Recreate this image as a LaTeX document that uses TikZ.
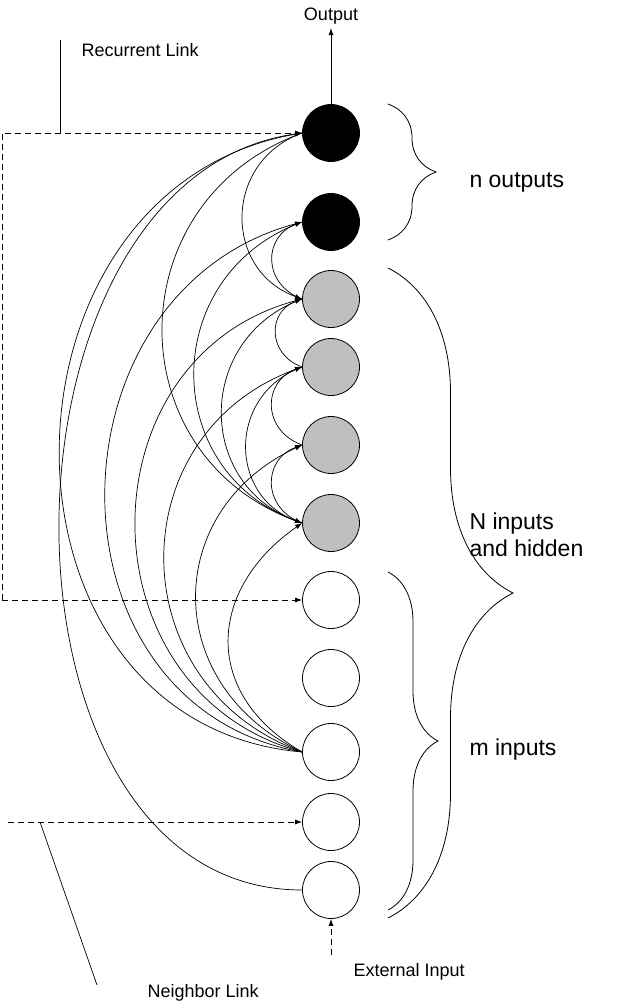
\documentclass[tikz,border=0pt]{standalone}
\usepackage{tikz}
\usepackage{fontspec}
\setmainfont{Liberation Sans}
\usetikzlibrary{decorations.pathreplacing,arrows.meta}

\begin{document}
\begin{tikzpicture}[x=1pt,y=-1pt]
      \useasboundingbox(0,0) rectangle (640,1008);
      \tikzset{U/.style = {shape=circle, draw, line width=0.8pt, minimum size=57pt, inner sep=0pt}}
      \tikzset{E/.style = {draw, line width=0.7pt, -{Latex[length=7pt,width=5pt]}}}
      \tikzset{D/.style = {E, dashed, dash pattern=on 6pt off 4pt}}
      \tikzset{B/.style = {draw, line width=0.8pt, decorate, decoration={brace, amplitude=#1}}}
      \tikzset{T/.style = {font=\fontsize{23}{27}\selectfont, align=left, anchor=west}}
      \tikzset{S/.style = {font=\fontsize{18}{21}\selectfont}}
      \node[U,fill=black](o1) at (331,133) {};
      \node[U,fill=black](o2) at (331,222) {};
      \node[U,fill=black!25](h1) at (331,299) {};
      \node[U,fill=black!25](h2) at (331,367) {};
      \node[U,fill=black!25](h3) at (331,445) {};
      \node[U,fill=black!25](h4) at (331,523) {};
      \node[U](i1) at (331,600) {};
      \node[U](i2) at (331,678) {};
      \node[U](i3) at (331,752) {};
      \node[U](i4) at (331,822) {};
      \node[U](i5) at (331,890) {};
      % short recurrent arcs
      \draw[E] (o1.west) to[out=200,in=160,looseness=1.3] (h1.west);
      \draw[E] (h1.west) to[out=160,in=200,looseness=1.4] (o2.west);
      \draw[E] (h2.west) to[out=160,in=200,looseness=1.4] (h1.west);
      \draw[E] (h3.west) to[out=160,in=200,looseness=1.4] (h2.west);
      \draw[E] (h4.west) to[out=160,in=200,looseness=1.4] (h3.west);
      % into the last hidden unit
      \draw[E] (o1.west) to[out=200,in=160,looseness=1.3] (h4.west);
      \draw[E] (o2.west) to[out=200,in=160,looseness=1.3] (h4.west);
      \draw[E] (h1.west) to[out=200,in=160,looseness=1.3] (h4.west);
      \draw[E] (h2.west) to[out=200,in=160,looseness=1.3] (h4.west);
      % from the third input
      \draw[E] (i3.west) to[out=175,in=190,looseness=1.35] (o1.west);
      \draw[E] (i3.west) to[out=170,in=195,looseness=1.3] (o2.west);
      \draw[E] (i3.west) to[out=165,in=195,looseness=1.3] (h1.west);
      \draw[E] (i3.west) to[out=160,in=200,looseness=1.3] (h2.west);
      \draw[E] (i3.west) to[out=155,in=205,looseness=1.3] (h3.west);
      \draw[E] (i3.west) to[out=150,in=215,looseness=1.3] (h4.west);
      \draw[E] (i5.west) to[out=180,in=188,looseness=1.1] (o1.west);
      % links from outside
      \coordinate (rl) at (2,133);
      \coordinate (rb) at (2,600);
      \coordinate (nl) at (8,822);
      \coordinate (ex) at (331,955);
      \draw[D] (rb) -- (rl) -- (o1.west);
      \draw[D] (rb) -- (i1.west);
      \draw[D] (nl) -- (i4.west);
      \draw[D] (ex) -- (i5.south);
      \draw[E] (o1.north) -- ++(0,-76) coordinate (out);
      \node[S,anchor=south](outl) at (out) {Output};
      \node[S,anchor=west](rll) at (78,50) {Recurrent Link};
      \node[S,anchor=west](nll) at (144,993) {Neighbor Link};
      \node[S,anchor=west](exl) at (350,972) {External Input};
      \draw[line width=0.7pt] (60,133) -- (60,40);
      \draw[line width=0.7pt] (40,822) -- (97,985);
      % braces
      \draw[B=48pt] (388,104) -- (388,240);
      \draw[B=125pt] (388,268) -- (388,918);
      \draw[B=50pt] (388,572) -- (388,910);
      \node[T](nout) at (466,182) {n outputs};
      \node[T](nin) at (466,535) {N inputs\\and hidden};
      \node[T](min) at (466,750) {m inputs};
\end{tikzpicture}
\end{document}
